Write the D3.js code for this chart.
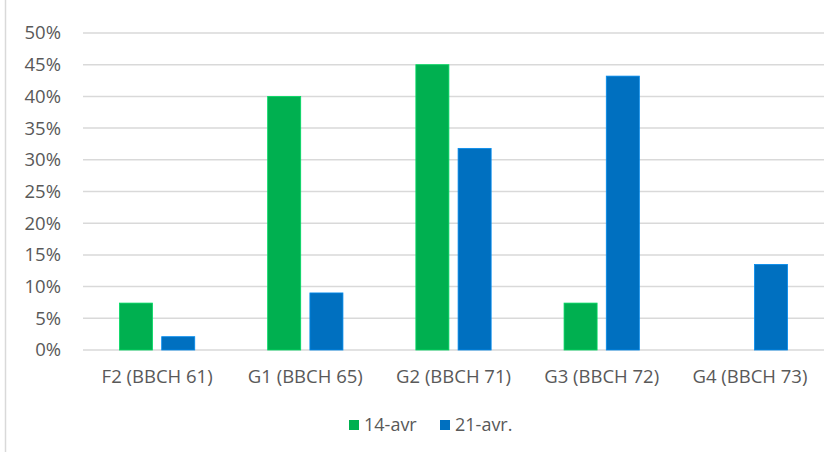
<!DOCTYPE html>
<html>
<head>
<meta charset="utf-8">
<script src="https://cdn.jsdelivr.net/npm/d3@7"></script>
<style>
  html, body { margin: 0; padding: 0; background: #fff; }
  svg { display: block; }
  text { font-family: "Open Sans", sans-serif; fill: #595959; }
</style>
</head>
<body>
<svg id="chart" width="838" height="452"></svg>
<script>
// Stades phénologiques et fréquences observées aux deux dates
const categories = ["F2 (BBCH 61)", "G1 (BBCH 65)", "G2 (BBCH 71)", "G3 (BBCH 72)", "G4 (BBCH 73)"];
const seriesNames = ["14-avr", "21-avr."];
const avr14 = [0.074, 0.40, 0.45, 0.074, null];
const avr21 = [0.021, 0.09, 0.318, 0.432, 0.135];
const yTicks = [0, 0.05, 0.10, 0.15, 0.20, 0.25, 0.30, 0.35, 0.40, 0.45, 0.50];
const colors = ["#00B050", "#0070C0"];

const svg = d3.select("#chart");
const plot = { left: 83, right: 824, top: 33, bottom: 350 };

const x = d3.scaleBand().domain(categories).range([plot.left, plot.right]).padding(0);
const y = d3.scaleLinear().domain([0, 0.5]).range([plot.bottom, plot.top]);

// frame edge on the left
svg.append("line")
  .attr("x1", 5.5).attr("x2", 5.5).attr("y1", 0).attr("y2", 452)
  .attr("stroke", "#d9d9d9").attr("stroke-width", 1.5);

// horizontal gridlines
svg.append("g")
  .selectAll("line")
  .data(yTicks)
  .join("line")
  .attr("x1", plot.left).attr("x2", plot.right)
  .attr("y1", d => y(d)).attr("y2", d => y(d))
  .attr("stroke", "#d9d9d9").attr("stroke-width", 1.5);

// y axis labels
const yAxis = d3.axisLeft(y).tickValues(yTicks).tickFormat(d3.format(".0%")).tickSize(0).tickPadding(22);
const gy = svg.append("g").attr("transform", `translate(${plot.left},0)`).call(yAxis);
gy.select(".domain").remove();
gy.selectAll("text").style("font-size", "18.5px").attr("fill", "#595959").style("font-family", "'Open Sans', sans-serif");

// bars
const bw = x.bandwidth();
const barW = bw * 0.223;
const gap = bw * 0.062;
const series = [avr14, avr21];
series.forEach((vals, si) => {
  svg.append("g")
    .selectAll("rect")
    .data(vals.map((v, i) => ({ v, c: categories[i] })).filter(d => d.v != null))
    .join("rect")
    .attr("x", d => x(d.c) + bw / 2 + (si === 0 ? -gap / 2 - barW : gap / 2))
    .attr("width", barW)
    .attr("y", d => y(d.v))
    .attr("height", d => y(0) - y(d.v))
    .attr("fill", colors[si])
    .attr("stroke", d3.color(colors[si]).brighter(0.6))
    .attr("stroke-width", 0.8);
});

// category labels
const xAxis = d3.axisBottom(x).tickSize(0).tickPadding(20);
const gx = svg.append("g").attr("transform", `translate(0,${plot.bottom})`).call(xAxis);
gx.select(".domain").remove();
gx.selectAll("text").style("font-size", "18.5px").attr("fill", "#595959").style("font-family", "'Open Sans', sans-serif");

// legend
const legend = svg.append("g");
const legendX = [349, 440];
seriesNames.forEach((name, i) => {
  legend.append("rect")
    .attr("x", legendX[i]).attr("y", 420).attr("width", 10).attr("height", 10)
    .attr("fill", colors[i]);
  legend.append("text")
    .attr("x", legendX[i] + 15).attr("y", 425)
    .attr("dy", "0.35em")
    .style("font-size", "18px")
    .text(name);
});
</script>
</body>
</html>
